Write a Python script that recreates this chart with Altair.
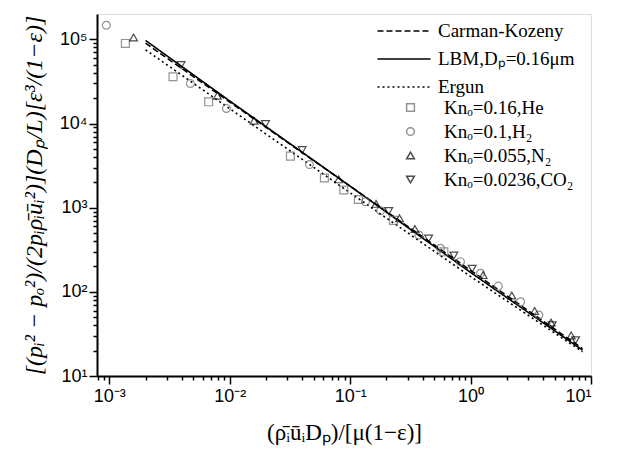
import altair as alt
import pandas as pd

# ---------------- data ----------------
he_re = [0.00136, 0.00338, 0.00668, 0.0319, 0.0611, 0.0885, 0.117, 0.229, 0.600]
he_f = [89400, 35900, 18100, 4100, 2250, 1620, 1250, 706, 299]

h2_re = [0.000944, 0.00471, 0.00938, 0.0459, 0.134, 0.179, 0.372, 0.562, 0.824, 1.21, 1.70, 2.60, 3.69]
h2_f = [147000, 29900, 15100, 3250, 1175, 918, 473, 329, 228, 166, 117, 76.2, 53.0]

n2_re = [0.00159, 0.00789, 0.0159, 0.0803, 0.164, 0.257, 0.345, 1.27, 2.20, 3.40, 4.66, 6.84]
n2_f = [105000, 21400, 10800, 2170, 1110, 747, 557, 158, 90.3, 59.4, 43.2, 30.3]

co2_re = [0.00394, 0.0198, 0.0399, 0.209, 0.448, 0.726, 1.03, 4.76, 7.45]
co2_f = [49400, 9840, 4830, 912, 430, 270, 188, 40.0, 26.6]

ck_re = [0.002, 0.01, 0.1, 1.0, 8.5]
ck_f = [90000, 18000, 1800, 180, 21.2]

lbm_re = [0.002, 0.01, 0.1, 1.0, 8.5]
lbm_f = [97000, 18500, 1800, 170, 20.3]

erg_re = [0.002, 0.01, 0.1, 1.0, 8.5]
erg_f = [75000, 15000, 1500, 152, 19.4]

series_names = ["Knₒ=0.16,He", "Knₒ=0.1,H₂", "Knₒ=0.055,N₂", "Knₒ=0.0236,CO₂"]
line_names = ["Carman-Kozeny", "LBM,Dₚ=0.16μm", "Ergun"]

x_major_exps = [-3, -2, -1, 0, 1]
y_major_exps = [1, 2, 3, 4, 5]

# ---------------- tables ----------------
pts = []
for name, rs, fs in zip(series_names, [he_re, h2_re, n2_re, co2_re], [he_f, h2_f, n2_f, co2_f]):
    for r, f in zip(rs, fs):
        pts.append({"re": r, "f": f, "series": name})
pts = pd.DataFrame(pts)

lns = []
for name, rs, fs in zip(line_names, [ck_re, lbm_re, erg_re], [ck_f, lbm_f, erg_f]):
    for i, (r, f) in enumerate(zip(rs, fs)):
        lns.append({"re": r, "f": f, "model": name, "order": i})
lns = pd.DataFrame(lns)

x_ticks = [k * 10.0 ** e for e in range(-4, 1) for k in range(1, 10)] + [10.0]
x_ticks = [v for v in x_ticks if v >= 0.00079]
y_ticks = [k * 10.0 ** e for e in range(1, 5) for k in range(1, 10)] + [100000.0]

SUP = {"-": "⁻", "0": "⁰", "1": "¹", "2": "²", "3": "³", "4": "⁴",
       "5": "⁵", "6": "⁶", "7": "⁷", "8": "⁸", "9": "⁹"}
E = "round(log(datum.value)/LN10)"
MAJOR = f"abs(datum.value/pow(10,{E})-1)<1e-6"


def label_expr(exps):
    chain = "''"
    for k in exps:
        s = "".join(SUP[c] for c in str(k))
        chain = f"({E}=={k} ? '10{s}' : {chain})"
    return f"{MAJOR} ? {chain} : ''"


tick_size = {"condition": {"test": MAJOR, "value": 8}, "value": 4}

x_axis = alt.Axis(values=x_ticks, labelExpr=label_expr(x_major_exps), tickSize=tick_size,
                  grid=False, labelOverlap=False, labelFont="Liberation Sans", labelFontSize=18,
                  labelPadding=3, labelColor="black", tickColor="black", tickWidth=1.5,
                  domainColor="black", domainWidth=2,
                  title="(ρ̄ᵢūᵢDₚ)/[μ(1−ε)]", titleFont="Liberation Serif", titleFontSize=23,
                  titleFontWeight="normal", titleColor="black", titlePadding=16)
y_axis = alt.Axis(values=y_ticks, labelExpr=label_expr(y_major_exps), tickSize=tick_size,
                  grid=False, labelOverlap=False, labelFont="Liberation Sans", labelFontSize=18,
                  labelPadding=2, labelColor="black", tickColor="black", tickWidth=1.5,
                  domainColor="black", domainWidth=2,
                  title="[(pᵢ² − pₒ²)/(2pᵢρ̄ᵢūᵢ²)](Dₚ/L)[ε³/(1−ε)]", titleFont="Liberation Serif",
                  titleFontSize=24, titleFontStyle="italic", titleFontWeight="normal",
                  titleColor="black", titlePadding=13)

xs = alt.Scale(type="log", domain=[0.00079, 10], nice=False)
ys = alt.Scale(type="log", domain=[10, 200000], nice=False)

# wide horizontal stroke symbol for the line legend
LINE_SYM = "M-2.65,0H2.65"

lines = alt.Chart(lns).mark_line(color="black", strokeWidth=1.6).encode(
    x=alt.X("re:Q", scale=xs, axis=x_axis),
    y=alt.Y("f:Q", scale=ys, axis=y_axis),
    strokeDash=alt.StrokeDash("model:N", scale=alt.Scale(domain=line_names, range=[[6, 3], [1, 0], [2, 3]]),
                              legend=alt.Legend(title=None, orient="none", legendX=296, legendY=6,
                                                symbolType=LINE_SYM, symbolSize=400, symbolStrokeColor="black",
                                                symbolStrokeWidth=1.4, labelFont="Liberation Serif",
                                                labelFontSize=19, labelColor="black", labelOffset=23,
                                                labelLimit=400, rowPadding=7, padding=0)),
    order="order:Q",
)

pt_legend = alt.Legend(title=None, orient="none", legendX=304, legendY=84,
                       symbolSize=60, symbolStrokeWidth=1.5, labelFont="Liberation Serif",
                       labelFontSize=19, labelColor="black", labelOffset=24,
                       labelLimit=400, rowPadding=4, padding=0)

points = alt.Chart(pts).mark_point(filled=False, size=62, strokeWidth=1.2).encode(
    x=alt.X("re:Q", scale=xs),
    y=alt.Y("f:Q", scale=ys),
    shape=alt.Shape("series:N", scale=alt.Scale(domain=series_names,
                                                range=["square", "circle", "triangle-up", "triangle-down"]),
                    legend=pt_legend),
    stroke=alt.Stroke("series:N", scale=alt.Scale(domain=series_names,
                                                  range=["#666666", "#666666", "#000000", "#000000"]),
                      legend=pt_legend),
)

chart = alt.layer(lines, points).properties(
    width=494, height=362,
    autosize=alt.AutoSizeParams(type="none"),
    padding={"left": 89, "top": 6, "right": 24, "bottom": 75},
).configure_view(stroke="black", strokeWidth=1.5).configure(background="white")

chart.save("out.html", embed_options={"renderer": "svg", "actions": False})
